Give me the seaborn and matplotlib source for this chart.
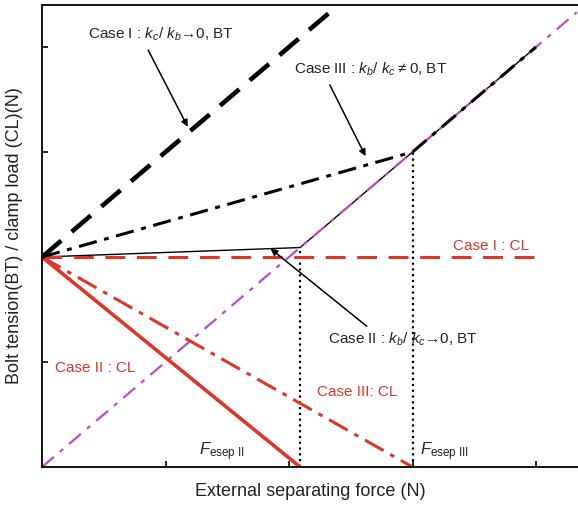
import numpy as np
import pandas as pd
import matplotlib
matplotlib.use("Agg")
import matplotlib.pyplot as plt
import seaborn as sns

sns.set_theme(style="white")
plt.rcParams["font.family"] = ["Liberation Sans", "DejaVu Sans"]
plt.rcParams["mathtext.fontset"] = "custom"
plt.rcParams["mathtext.rm"] = "Liberation Sans"
plt.rcParams["mathtext.it"] = "Liberation Sans:italic"
plt.rcParams["mathtext.sf"] = "Liberation Sans"

# Characteristic loads (arbitrary units)
preload = 2.0
f_esep_ii = 2.09
f_esep_iii = 3.0
f_end = 4.0

# Bolt tension curves
case1_bt_x = [0.0, 2.33]
case1_bt_y = [2.0, 4.33]
case2_bt_x = [0.0, f_esep_ii, f_end]
case2_bt_y = [2.0, 2.09, 4.0]
case3_bt_x = [0.0, f_esep_iii, f_end]
case3_bt_y = [2.0, 3.0, 4.0]

# Clamp load curves
case1_cl_x = [0.0, f_end]
case1_cl_y = [2.0, 2.0]
case2_cl_x = [0.0, f_esep_ii]
case2_cl_y = [2.0, 0.0]
case3_cl_x = [0.0, f_esep_iii]
case3_cl_y = [2.0, 0.0]

# Load equal to the external force
ext_x = [0.0, 4.33]
ext_y = [0.0, 4.33]

x_ticks = [1, 2, 3, 4]
y_ticks = [1, 2, 3, 4]

RED = "#e0362a"
MAG = "#c04cc4"
INK = "#222222"

fig = plt.figure(figsize=(5.78, 5.05), dpi=100)
ax = fig.add_axes([42 / 578, 38 / 505, 536 / 578, 462 / 505])


def line(x, y, **kw):
    df = pd.DataFrame({"x": x, "y": y})
    sns.lineplot(data=df, x="x", y="y", ax=ax, sort=False, estimator=None,
                 legend=False, **kw)


# vertical markers at the separation forces
line([f_esep_ii, f_esep_ii], [0, 2.09], color="black", lw=1.6,
     linestyle=(0, (1.0, 1.6)))
line([f_esep_iii, f_esep_iii], [0, 3.0], color="black", lw=1.6,
     linestyle=(0, (1.0, 1.6)))

line(case2_bt_x, case2_bt_y, color="black", lw=1.0)
line(ext_x, ext_y, color=MAG, lw=1.6, linestyle=(0, (7, 3.5, 2, 3.5)))

line(case1_cl_x, case1_cl_y, color=RED, lw=2.2, linestyle=(0, (6.5, 3.8)))
line(case3_cl_x, case3_cl_y, color=RED, lw=2.2,
     linestyle=(0, (7, 2.5, 1.5, 2.5)))
line(case2_cl_x, case2_cl_y, color=RED, lw=2.6)

line(case3_bt_x, case3_bt_y, color="black", lw=2.2,
     linestyle=(0, (6, 2.5, 1.6, 2.5)))
line(case1_bt_x, case1_bt_y, color="black", lw=3.3, linestyle=(0, (5.5, 3.0)))

ax.set_xlim(0, 4.34)
ax.set_ylim(0, 4.40)
ax.set_xticks(x_ticks)
ax.set_yticks(y_ticks)
ax.set_xticklabels([])
ax.set_yticklabels([])
ax.tick_params(axis="both", direction="in", length=4, width=1.2,
               color="black", bottom=True, left=True, top=False, right=False)
for side in ["left", "bottom", "top"]:
    ax.spines[side].set_visible(True)
    ax.spines[side].set_color("black")
    ax.spines[side].set_linewidth(1.3)
ax.spines["right"].set_visible(False)

ax.set_xlabel("External separating force (N)", fontsize=13, color=INK,
              labelpad=8)
ax.set_ylabel("Bolt tension(BT) / clamp load (CL)(N)", fontsize=13,
              color=INK, labelpad=10)

fs = 11
arrow = dict(arrowstyle="-|>", color="black", lw=1.1, mutation_scale=10,
             shrinkA=0, shrinkB=0)

ax.text(0.96, 4.12, "Case I : $k_c$/ $k_b$\u21920, BT", fontsize=fs,
        ha="center", va="center", color=INK)
ax.annotate("", xy=(1.18, 3.24), xytext=(0.86, 3.97), arrowprops=arrow)

ax.text(2.66, 3.79, "Case III : $k_b$/ $k_c$\u2009\u2260\u20090, BT",
        fontsize=fs, ha="center", va="center", color=INK)
ax.annotate("", xy=(2.62, 2.96), xytext=(2.33, 3.64), arrowprops=arrow)

ax.text(2.92, 1.22, "Case II : $k_b$/ $k_c$\u21920, BT", fontsize=fs,
        ha="center", va="center", color=INK)
ax.annotate("", xy=(1.85, 2.08), xytext=(2.63, 1.34), arrowprops=arrow)

ax.text(3.64, 2.10, "Case I : CL", fontsize=fs, ha="center", va="center",
        color=RED)
ax.text(0.43, 0.94, "Case II : CL", fontsize=fs, ha="center", va="center",
        color=RED)
ax.text(2.55, 0.71, "Case III: CL", fontsize=fs, ha="center", va="center",
        color=RED)

ax.text(1.46, 0.15, r"$F_{\mathrm{esep\ II}}$", fontsize=fs + 1, ha="center",
        va="center", color=INK)
ax.text(3.26, 0.15, r"$F_{\mathrm{esep\ III}}$", fontsize=fs + 1,
        ha="center", va="center", color=INK)

fig.savefig("out.png", dpi=100)
